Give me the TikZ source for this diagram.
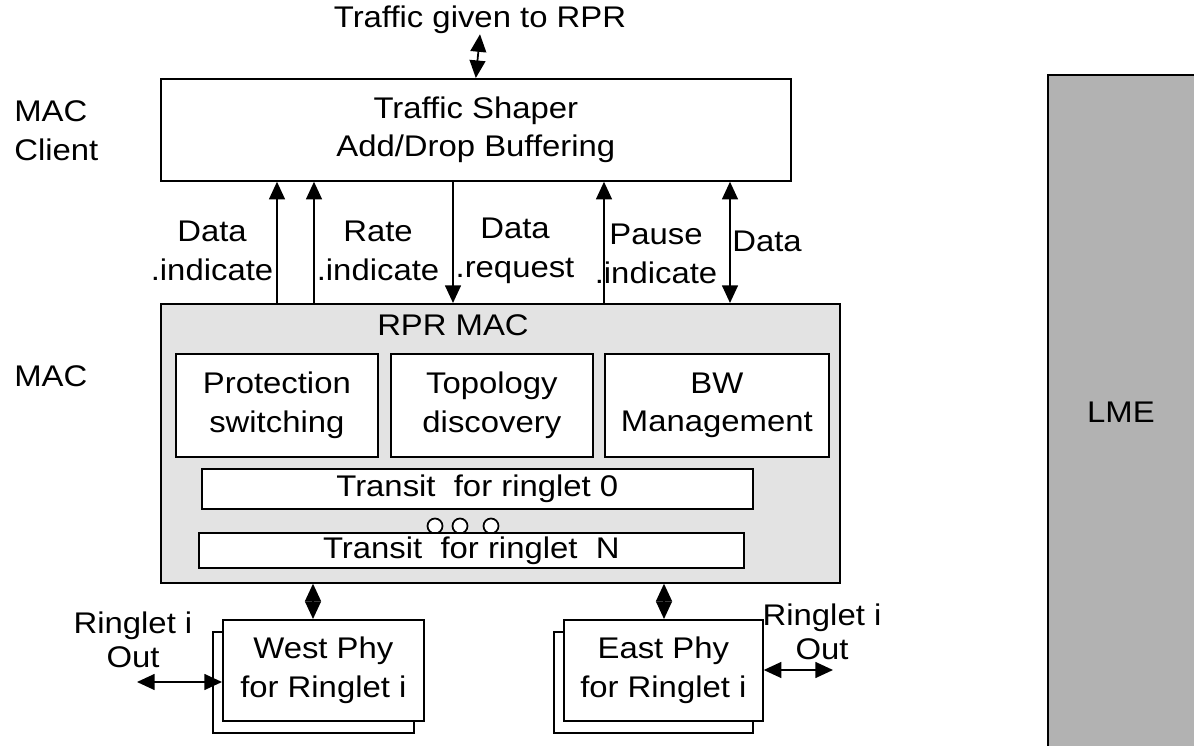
\documentclass[tikz,border=0pt]{standalone}
\usepackage{fontspec}
\setmainfont{Liberation Sans}[FakeStretch=1.1]
\usetikzlibrary{arrows.meta}

\tikzset{
  blk/.style={draw, fill=white, line width=1pt, inner sep=0pt, align=center},
  sig/.style={line width=1pt, -{Triangle[length=10pt,width=9pt]}},
  sigs/.style={line width=1pt, {Triangle[length=10pt,width=9pt]}-{Triangle[length=10pt,width=9pt]}},
  lbl/.style={align=center, inner sep=0pt},
}

\begin{document}
\begin{tikzpicture}[x=0.02cm, y=-0.02cm, font=\fontsize{17}{22}\selectfont]
  \useasboundingbox (0,0) rectangle (1194,746);

  % MAC client layer
  \node[lbl] (top) at (480,20) {Traffic given to RPR};
  \node[blk, minimum width=12.6cm, minimum height=2.04cm, anchor=north west] (shaper) at (160,78) {Traffic Shaper\\Add/Drop Buffering};
  \node[lbl, anchor=west, align=left] (client) at (14,131) {MAC\\Client};
  \draw[sigs] (top.south) -- (shaper.north);

  % MAC layer
  \node[blk, fill=black!11, minimum width=13.58cm, minimum height=5.58cm, anchor=north west] (mac) at (160,303) {};
  \node[lbl] (rprmac) at (453,325) {RPR MAC};
  \node[lbl, anchor=west] (maclbl) at (14,376) {MAC};
  \node[blk, minimum width=4.04cm, minimum height=2.06cm, anchor=north west] (prot) at (175,353) {Protection\\switching};
  \node[blk, minimum width=4.04cm, minimum height=2.06cm, anchor=north west] (topo) at (390,353) {Topology\\discovery};
  \node[blk, minimum width=4.48cm, minimum height=2.06cm, anchor=north west] (bw) at (604,353) {BW\\Management};
  \node[blk, minimum width=11.02cm, minimum height=0.8cm, anchor=north west] (tr0) at (201,468) {Transit\ \ for ringlet 0};
  \foreach \cx in {435,460,491}
    \draw[line width=1pt, fill=white] (\cx,526) circle (0.15cm);
  \node[blk, minimum width=10.9cm, minimum height=0.7cm, anchor=north west] (trn) at (198,532) {Transit\ \ for ringlet\ \ N};

  % service primitives
  \coordinate (c1) at (277,0);
  \coordinate (c2) at (314,0);
  \coordinate (c3) at (453,0);
  \coordinate (c4) at (604,0);
  \coordinate (c5) at (730,0);
  \draw[sig] (mac.north -| c1) -- (shaper.south -| c1);
  \draw[sig] (mac.north -| c2) -- (shaper.south -| c2);
  \draw[sig] (shaper.south -| c3) -- (mac.north -| c3);
  \draw[sig] (mac.north -| c4) -- (shaper.south -| c4);
  \draw[sigs] (mac.north -| c5) -- (shaper.south -| c5);
  \node[lbl] (dind) at (212,251) {Data\\.indicate};
  \node[lbl] (rind) at (378,251) {Rate\\.indicate};
  \node[lbl] (dreq) at (515,251) {Data\\.request};
  \node[lbl] (pind) at (656,254) {Pause\\.indicate};
  \node[lbl] (data) at (767,241) {Data};

  % PHY layer
  \node[blk, minimum width=4.02cm, minimum height=2.02cm, anchor=north west] (westback) at (212,631) {};
  \node[blk, minimum width=4.02cm, minimum height=2.02cm, anchor=north west] (westphy) at (222,619) {West Phy\\for Ringlet i};
  \node[blk, minimum width=3.98cm, minimum height=2.02cm, anchor=north west] (eastback) at (553,631) {};
  \node[blk, minimum width=3.98cm, minimum height=2.02cm, anchor=north west] (eastphy) at (563,619) {East Phy\\for Ringlet i};
  \coordinate (cw) at (313,0);
  \coordinate (ce) at (664,0);
  \draw[sigs] (mac.south -| cw) -- (westphy.north -| cw);
  \draw[sigs] (mac.south -| ce) -- (eastphy.north -| ce);
  \coordinate (wout) at (137,682);
  \coordinate (eout) at (833,670);
  \draw[sigs] (wout) -- (wout -| westphy.west);
  \draw[sigs] (eout -| eastphy.east) -- (eout);
  \node[lbl, font=\fontsize{17}{19}\selectfont] (wring) at (133,640) {Ringlet i\\Out};
  \node[lbl, font=\fontsize{17}{19}\selectfont] (ering) at (822,632) {Ringlet i\\Out};

  % layer management
  \node[fill=black!30, inner sep=0pt, minimum width=3.2cm, minimum height=13.6cm, anchor=north west] (lme) at (1048,75) {};
  \draw[line width=1.5pt] (lme.south west) -- (lme.north west) -- (lme.north east);
  \node[lbl] (lmelbl) at (1121,412) {LME};
\end{tikzpicture}
\end{document}
